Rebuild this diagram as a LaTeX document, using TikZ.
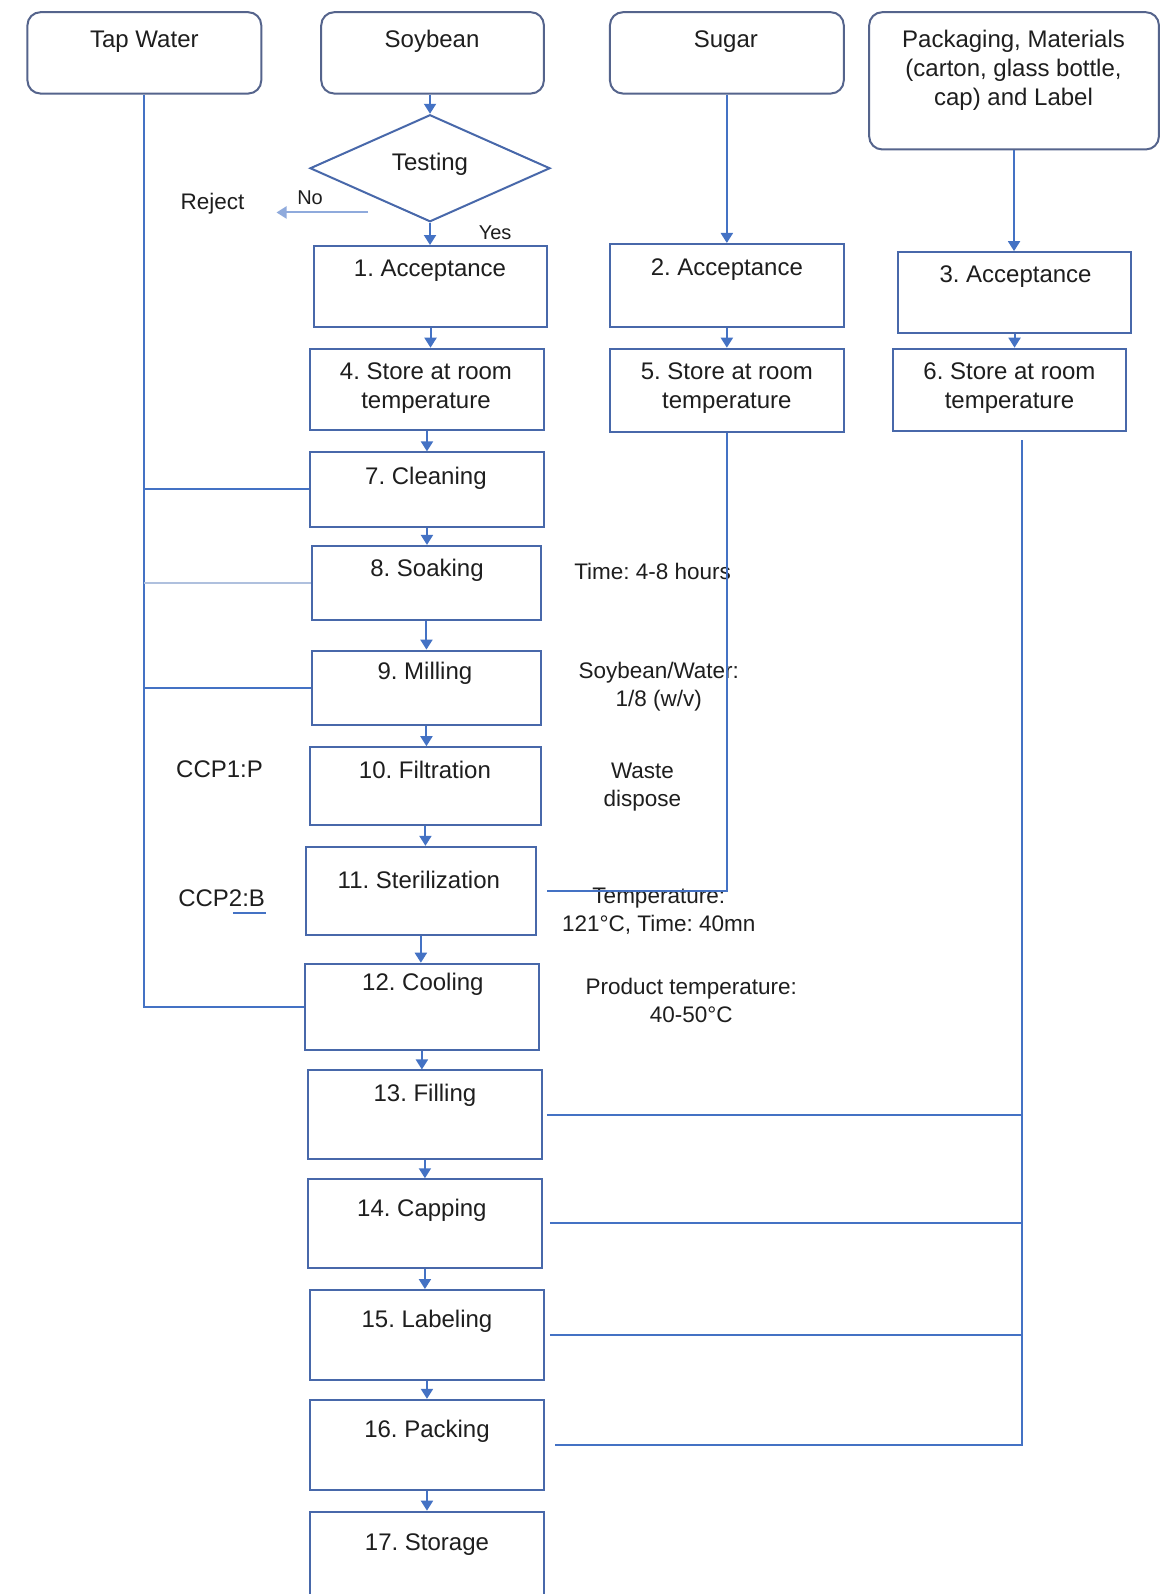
\documentclass[tikz,border=0pt]{standalone}
\usepackage{fontspec}
\setmainfont{Liberation Sans}
\usetikzlibrary{shapes.geometric,arrows.meta,fit}
\definecolor{lblue}{RGB}{68,114,196}
\definecolor{bblue}{RGB}{72,104,170}
\definecolor{rblue}{RGB}{85,100,140}
\definecolor{pale}{RGB}{175,192,222}
\definecolor{txtc}{RGB}{30,30,30}
\frenchspacing
\begin{document}
\begin{tikzpicture}[x=1.0166pt,y=-1.0166pt,
  pbox/.style={draw=bblue,line width=2pt,inner sep=0pt},
  rbox/.style={draw=rblue,line width=2pt,rounded corners=13pt,inner sep=0pt},
  txt/.style={text=txtc,font=\fontsize{24}{29}\selectfont,align=center,inner sep=0pt},
  note/.style={text=txtc,font=\fontsize{22.5}{28}\selectfont,align=center,inner sep=0pt},
  conn/.style={draw=lblue,line width=2pt},
  paleconn/.style={draw=pale,line width=2pt},
  arr/.style={conn,-{Triangle[width=12pt,length=10pt]}},
]
\useasboundingbox (0,0) rectangle (1143,1568);
\clip (0,0) rectangle (1143,1568);
\fill[white] (0,0) rectangle (1143,1568);

% source boxes
\node[rbox,fit={(27,12)(257,92)}] (tw) {};
\node[rbox,fit={(316,12)(535,92)}] (soy) {};
\node[rbox,fit={(600,12)(830,92)}] (sug) {};
\node[rbox,fit={(855,12)(1140,147)}] (pak) {};
\node[txt] (twt) at (142,41) {Tap Water};
\node[txt] (soyt) at (425,41) {Soybean};
\node[txt] (sugt) at (714,41) {Sugar};
\node[txt] (pakt) at (997,69) {Packaging, Materials\\(carton, glass bottle,\\cap) and Label};

% decision
\node[diamond,draw=bblue,line width=2pt,minimum width=240pt,minimum height=107pt,aspect=2.25,inner sep=0pt] (dia) at (423,165.5) {};
\node[txt] (diat) at (423,162) {Testing};
\node[note] (rej) at (209,200) {Reject};
\node[note,font=\fontsize{20}{24}\selectfont] (no) at (305,194) {No};
\node[note,font=\fontsize{20}{24}\selectfont] (yes) at (487,229) {Yes};
\coordinate (rjs) at (362,209);
\coordinate (rje) at (272,209);

% process boxes column 1
\node[pbox,fit={(309,242)(538,322)}] (b1) {};
\node[pbox,fit={(305,343)(535,423)}] (b4) {};
\node[pbox,fit={(305,445)(535,518)}] (b7) {};
\node[pbox,fit={(307,537)(532,610)}] (b8) {};
\node[pbox,fit={(307,640)(532,713)}] (b9) {};
\node[pbox,fit={(305,735)(532,812)}] (b10) {};
\node[pbox,fit={(301,833)(527,920)}] (b11) {};
\node[pbox,fit={(300,948)(530,1033)}] (b12) {};
\node[pbox,fit={(303,1053)(533,1140)}] (b13) {};
\node[pbox,fit={(303,1160)(533,1247)}] (b14) {};
\node[pbox,fit={(305,1269)(535,1357)}] (b15) {};
\node[pbox,fit={(305,1377)(535,1466)}] (b16) {};
\node[pbox,fit={(305,1487)(535,1600)}] (b17) {};
% column 2 and 3
\node[pbox,fit={(600,240)(830,322)}] (b2) {};
\node[pbox,fit={(600,343)(830,425)}] (b5) {};
\node[pbox,fit={(883,248)(1113,328)}] (b3) {};
\node[pbox,fit={(878,343)(1108,424)}] (b6) {};

% box texts
\node[txt] (t1) at (423,266) {1. Acceptance};
\node[txt] (t4) at (419,382) {4. Store at room\\temperature};
\node[txt] (t7) at (419,470) {7. Cleaning};
\node[txt] (t8) at (420,561) {8. Soaking};
\node[txt] (t9) at (418,662) {9. Milling};
\node[txt] (t10) at (418,757) {10. Filtration};
\node[txt] (t11) at (412,866) {11. Sterilization};
\node[txt] (t12) at (416,968) {12. Cooling};
\node[txt] (t13) at (418,1077) {13. Filling};
\node[txt] (t14) at (415,1191) {14. Capping};
\node[txt] (t15) at (420,1300) {15. Labeling};
\node[txt] (t16) at (420,1408) {16. Packing};
\node[txt] (t17) at (420,1519) {17. Storage};
\node[txt] (t2) at (715,265) {2. Acceptance};
\node[txt] (t5) at (715,382) {5. Store at room\\temperature};
\node[txt] (t3) at (999,272) {3. Acceptance};
\node[txt] (t6) at (993,382) {6. Store at room\\temperature};

% side notes
\node[note] (n8) at (642,562) {Time: 4-8 hours};
\node[note] (n9) at (648,675) {Soybean/Water:\\1/8 (w/v)};
\node[note] (n10) at (632,774) {Waste\\dispose};
\node[note] (n11) at (648,896) {Temperature:\\121°C, Time: 40mn};
\node[note] (n12) at (680,984) {Product temperature:\\40-50°C};
\node[txt] (c1) at (216,757) {CCP1:P};
\node[txt] (c2) at (218,884) {CCP2:B};
\draw[lblue,line width=1.5pt] (229,898) -- (262,898);

% arrows main column
\draw[arr] (dia.north |- soy.south) -- (dia.north);
\draw[arr] (dia.south) -- (dia.south |- b1.north);
\draw[draw=lblue!60,line width=2pt,-{Triangle[width=12pt,length=10pt]}] (rjs) -- (rje);
\draw[arr] (b1.south) -- (b1.south |- b4.north);
\draw[arr] (b4.south) -- (b4.south |- b7.north);
\draw[arr] (b7.south) -- (b7.south |- b8.north);
\draw[arr] (b8.south) -- (b8.south |- b9.north);
\draw[arr] (b9.south) -- (b9.south |- b10.north);
\draw[arr] (b10.south) -- (b10.south |- b11.north);
\draw[arr] (b11.south) -- (b11.south |- b12.north);
\draw[arr] (b12.south) -- (b12.south |- b13.north);
\draw[arr] (b13.south) -- (b13.south |- b14.north);
\draw[arr] (b14.south) -- (b14.south |- b15.north);
\draw[arr] (b15.south) -- (b15.south |- b16.north);
\draw[arr] (b16.south) -- (b16.south |- b17.north);
% sugar and packaging columns
\draw[arr] (sug.south) -- (sug.south |- b2.north);
\draw[arr] (b2.south) -- (b2.south |- b5.north);
\draw[arr] (pak.south) -- (pak.south |- b3.north);
\draw[arr] (b3.south) -- (b3.south |- b6.north);

% tap water distribution
\draw[conn] (tw.south) -- (tw.south |- b12.west) -- (b12.west);
\draw[conn] (tw.south |- b7.west) -- (b7.west);
\draw[paleconn] (tw.south |- b8.west) -- (b8.west);
\draw[conn] (tw.south |- b9.west) -- (b9.west);

% sugar to sterilization
\coordinate (s11) at ([xshift=10pt]b11.east);
\draw[conn] (b5.south) -- (b5.south |- s11) -- (s11);

% packaging to filling..packing
\coordinate (pj) at (1005,0);
\coordinate (p6) at ([yshift=-8pt]b6.south);
\coordinate (e13) at ([xshift=4pt]b13.east);
\coordinate (e14) at ([xshift=7pt]b14.east);
\coordinate (e15) at ([xshift=5pt]b15.east);
\coordinate (e16) at ([xshift=10pt]b16.east);
\draw[conn] (p6 -| pj) -- (e16 -| pj) -- (e16);
\draw[conn] (e13) -- (e13 -| pj);
\draw[conn] (e14) -- (e14 -| pj);
\draw[conn] (e15) -- (e15 -| pj);
\end{tikzpicture}
\end{document}
